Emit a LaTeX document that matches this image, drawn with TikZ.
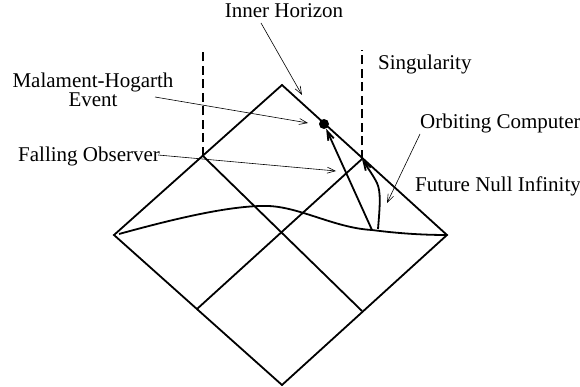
\documentclass[tikz,border=0pt]{standalone}
\usepackage{fontspec}
\setmainfont{Liberation Serif}
\usetikzlibrary{positioning,arrows.meta}

\begin{document}
\begin{tikzpicture}[
      x=1pt,y=-1pt,
      lbl/.style={font=\fontsize{21}{19.5}\selectfont,inner sep=0pt,align=center},
      rim/.style={line width=1.8pt,line join=miter},
      sing/.style={line width=1.6pt,dash pattern=on 9pt off 4.5pt},
      ptr/.style={line width=0.6pt,-{Straight Barb[length=8pt,width=6pt]}},
      wl/.style={line width=1.8pt,-{Straight Barb[length=9pt,width=6pt]}}
    ]
    \useasboundingbox (0,0) rectangle (580,387);
    % corners of the diagram
    \coordinate (top) at (282,85);
    \coordinate (lft) at (114,235);
    \coordinate (rgt) at (447,235);
    \coordinate (bot) at (282,385);
    \coordinate (ul) at (203,156);
    \coordinate (ur) at (362,159);
    \coordinate (ll) at (197,309);
    \coordinate (lr) at (362,311);
    \draw[rim] (top) -- (rgt) -- (bot) -- (lft) -- cycle;
    \draw[rim] (ul) -- (lr);
    \draw[rim] (ur) -- (ll);
    \draw[sing] (ul) -- (ul |- 0,50);
    \draw[sing] (ur) -- (ur |- 0,50);
    % initial surface
    \draw[line width=1.8pt] (119,234) .. controls (170,220) and (230,205) ..
    (268,206) .. controls (300,207) and (335,228) .. (372,230)
    .. controls (395,233) and (420,235) .. (rgt);
    % world lines
    \node[circle,fill,inner sep=0pt,minimum size=10pt] (mh) at (324,124) {};
    \coordinate (fo) at (372,230);
    \coordinate (oc) at (378,229);
    \draw[wl] (fo) -- (mh);
    \draw[wl] (oc) .. controls (380,205) and (381,192) .. (377,183)
    .. controls (373,175) and (367,167) .. (ur);
    % labels
    \node[lbl,anchor=base] (ihl) at (284,18) {Inner Horizon};
    \node[lbl,anchor=base west] (sgl) at (378,70) {Singularity};
    \node[lbl,anchor=base] (mhl) at (93,107) {Malament-Hogarth\\Event};
    \node[lbl,anchor=base west] (fol) at (18,162) {Falling Observer};
    \node[lbl,anchor=base west] (ocl) at (420,129) {Orbiting Computer};
    \node[lbl,anchor=base west] (fnl) at (415,192) {Future Null Infinity};
    % pointers
    \coordinate (ihs) at (261,23);
    \coordinate (iht) at (302,95);
    \coordinate (mhs) at (155,97);
    \coordinate (mht) at (308,123);
    \coordinate (fos) at (158,155);
    \coordinate (fot) at (336,171);
    \coordinate (ocs) at (420,134);
    \coordinate (oct) at (387,203);
    \draw[ptr] (ihs) -- (iht);
    \draw[ptr] (mhs) -- (mht);
    \draw[ptr] (fos) -- (fot);
    \draw[ptr] (ocs) -- (oct);
  \end{tikzpicture}
\end{document}
